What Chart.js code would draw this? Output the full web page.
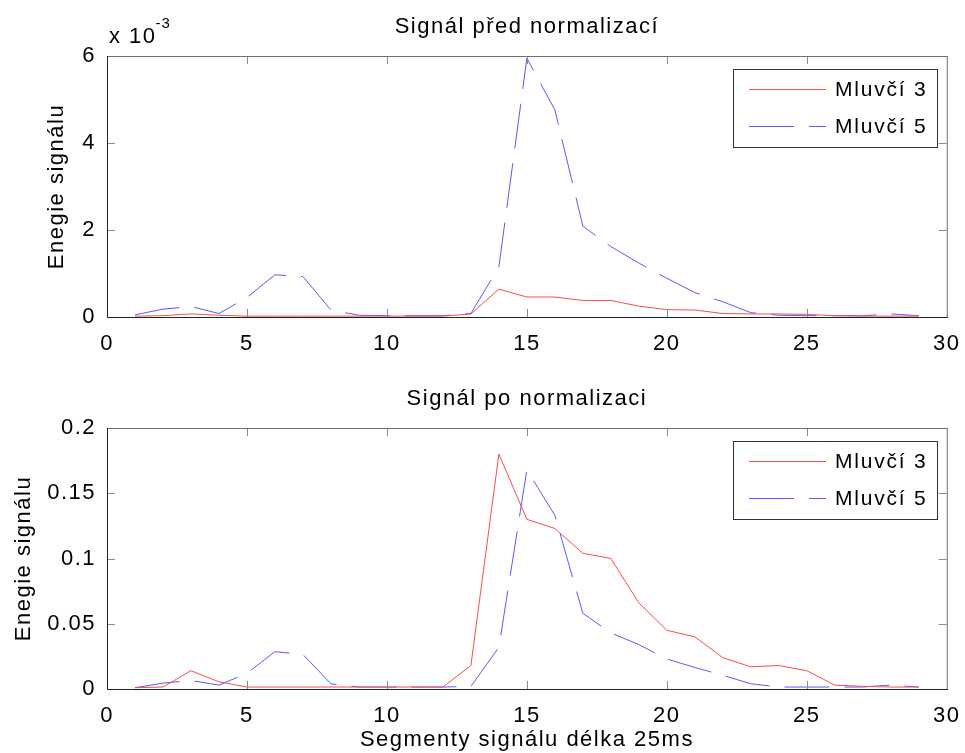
<!DOCTYPE html>
<html>
<head>
<meta charset="utf-8">
<script src="https://cdn.jsdelivr.net/npm/chart.js@4.4.1/dist/chart.umd.min.js"></script>
<style>
  html, body { margin: 0; padding: 0; background: #fff; }
  #wrap { position: relative; width: 965px; height: 753px; overflow: hidden; background: #fff; }
  canvas { position: absolute; left: 0; }
</style>
</head>
<body>
<div id="wrap">
  <canvas id="rawChart" width="965" height="380" style="top:0px"></canvas>
  <canvas id="normChart" width="965" height="381" style="top:372px"></canvas>
</div>
<script>
// Segment index (25 ms frames)
const segments = [1, 2, 3, 4, 5, 6, 7, 8, 9, 10, 11, 12, 13, 14, 15, 16, 17, 18, 19, 20, 21, 22, 23, 24, 25, 26, 27, 28, 29];

// Signal energy before normalization
const rawSpeaker3 = [0.02e-3, 0.03e-3, 0.07e-3, 0.04e-3, 0.02e-3, 0.02e-3, 0.02e-3, 0.02e-3, 0.02e-3, 0.02e-3,
                     0.02e-3, 0.02e-3, 0.07e-3, 0.64e-3, 0.46e-3, 0.46e-3, 0.38e-3, 0.38e-3, 0.25e-3, 0.17e-3,
                     0.16e-3, 0.08e-3, 0.07e-3, 0.07e-3, 0.06e-3, 0.03e-3, 0.02e-3, 0.02e-3, 0.02e-3];
const rawSpeaker5 = [0.05e-3, 0.18e-3, 0.24e-3, 0.08e-3, 0.45e-3, 0.97e-3, 0.93e-3, 0.16e-3, 0.04e-3, 0.03e-3,
                     0.03e-3, 0.03e-3, 0.08e-3, 1.15e-3, 5.95e-3, 4.76e-3, 2.09e-3, 1.62e-3, 1.24e-3, 0.89e-3,
                     0.56e-3, 0.35e-3, 0.10e-3, 0.04e-3, 0.03e-3, 0.03e-3, 0.03e-3, 0.07e-3, 0.03e-3];

// Signal energy after normalization
const normSpeaker3 = [0.001, 0.0015, 0.014, 0.0055, 0.0015, 0.0015, 0.0015, 0.0015, 0.0015, 0.0015,
                      0.0015, 0.0015, 0.018, 0.180, 0.130, 0.123, 0.104, 0.100, 0.066, 0.045,
                      0.040, 0.024, 0.017, 0.018, 0.014, 0.003, 0.002, 0.0015, 0.0015];
const normSpeaker5 = [0.001, 0.0045, 0.0065, 0.003, 0.012, 0.0286, 0.0265, 0.004, 0.0015, 0.0015,
                      0.0015, 0.0015, 0.002, 0.032, 0.168, 0.133, 0.058, 0.043, 0.034, 0.023,
                      0.0165, 0.0105, 0.004, 0.0015, 0.0015, 0.0015, 0.0015, 0.003, 0.0015];

// Tick values / labels
const xTicks = [0, 5, 10, 15, 20, 25, 30];
const rawYTicks = [0, 0.002, 0.004, 0.006];
const rawYLabels = ['0', '2', '4', '6'];
const normYTicks = [0, 0.05, 0.1, 0.15, 0.2];
const normYLabels = ['0', '0.05', '0.1', '0.15', '0.2'];

const seriesNames = ['Mluvčí 3', 'Mluvčí 5'];

const FONT = "'Liberation Sans', Arial, Helvetica, sans-serif";
const RED = '#ff4a4a';
const BLUE = '#5a5aff';
const seriesColors = [RED, BLUE];
const seriesDashes = [[], [45, 15]];

Chart.defaults.font.family = FONT;
Chart.defaults.font.size = 22;
Chart.defaults.color = '#000';

const toPoints = (xs, ys) => xs.map((x, i) => ({ x, y: ys[i] }));

// MATLAB-like axes box, inner ticks, titles and legend
const axesDecor = {
  id: 'axesDecor',
  beforeDraw(chart) {
    chart.ctx.letterSpacing = '1.5px';
  },
  afterDraw(chart, args, o) {
    const { ctx, chartArea: a, scales: { x, y } } = chart;
    ctx.save();
    ctx.letterSpacing = '0px';

    // inner tick marks
    ctx.strokeStyle = '#8a8a8a';
    ctx.lineWidth = 1;
    ctx.beginPath();
    x.ticks.forEach(t => {
      const px = Math.round(x.getPixelForValue(t.value)) + 0.5;
      if (px <= a.left + 1 || px >= a.right - 1) return;
      ctx.moveTo(px, a.bottom); ctx.lineTo(px, a.bottom - 8);
      ctx.moveTo(px, a.top); ctx.lineTo(px, a.top + 8);
    });
    y.ticks.forEach(t => {
      const py = Math.round(y.getPixelForValue(t.value)) + 0.5;
      if (py <= a.top + 1 || py >= a.bottom - 1) return;
      ctx.moveTo(a.left, py); ctx.lineTo(a.left + 8, py);
      ctx.moveTo(a.right, py); ctx.lineTo(a.right - 8, py);
    });
    ctx.stroke();

    // axes box
    ctx.strokeStyle = '#707070';
    ctx.strokeRect(a.left + 0.5, a.top + 0.5, a.right - a.left, a.bottom - a.top);
    ctx.strokeStyle = '#222';
    ctx.beginPath();
    ctx.moveTo(a.left + 0.5, a.top);
    ctx.lineTo(a.left + 0.5, a.bottom + 0.5);
    ctx.lineTo(a.right + 1, a.bottom + 0.5);
    ctx.stroke();

    // texts
    ctx.fillStyle = '#000';
    ctx.letterSpacing = '1.5px';
    ctx.font = '22px ' + FONT;
    ctx.textAlign = 'center';
    ctx.textBaseline = 'middle';
    ctx.fillText(o.title, (a.left + a.right) / 2, o.titleY);
    if (o.xLabel) ctx.fillText(o.xLabel, (a.left + a.right) / 2, o.xLabelY);

    ctx.save();
    ctx.translate(o.yLabelX, (a.top + a.bottom) / 2);
    ctx.rotate(-Math.PI / 2);
    ctx.fillText(o.yLabel, 0, 0);
    ctx.restore();

    if (o.exponent) {
      ctx.textAlign = 'left';
      ctx.textBaseline = 'alphabetic';
      ctx.font = '22px ' + FONT;
      ctx.fillText('x 10', 109, 43);
      const w = ctx.measureText('x 10').width;
      ctx.font = '15px ' + FONT;
      ctx.letterSpacing = '1px';
      ctx.fillText(o.exponent, 109 + w - 1, 28);
    }

    // legend
    const lg = o.legend;
    ctx.letterSpacing = '0px';
    ctx.fillStyle = '#fff';
    ctx.fillRect(lg.x, lg.y, lg.w, lg.h);
    ctx.strokeStyle = '#333';
    ctx.lineWidth = 1;
    ctx.strokeRect(lg.x + 0.5, lg.y + 0.5, lg.w, lg.h);
    seriesNames.forEach((name, i) => {
      const ly = lg.y + 20.5 + i * 37;
      ctx.save();
      ctx.strokeStyle = seriesColors[i];
      ctx.lineWidth = 1;
      ctx.setLineDash(seriesDashes[i]);
      ctx.beginPath();
      ctx.moveTo(lg.x + 16, ly);
      ctx.lineTo(lg.x + 93, ly);
      ctx.stroke();
      ctx.restore();
      ctx.fillStyle = '#000';
      ctx.font = '21px ' + FONT;
      ctx.letterSpacing = '1.8px';
      ctx.textAlign = 'left';
      ctx.textBaseline = 'middle';
      ctx.fillText(name, lg.x + 102, ly + 1);
      ctx.letterSpacing = '0px';
    });

    ctx.restore();
  }
};

function makeChart(id, s3, s5, yMax, yTicks, yLabels, decor, canvasH) {
  return new Chart(document.getElementById(id), {
    type: 'line',
    data: {
      datasets: [
        { label: seriesNames[0], data: toPoints(segments, s3), borderColor: seriesColors[0], borderWidth: 1,
          pointRadius: 0, tension: 0, fill: false },
        { label: seriesNames[1], data: toPoints(segments, s5), borderColor: seriesColors[1], borderWidth: 1,
          borderDash: seriesDashes[1], pointRadius: 0, tension: 0, fill: false }
      ]
    },
    options: {
      responsive: false,
      animation: false,
      events: [],
      layout: { padding: { left: 0, right: 18, top: 56, bottom: canvasH - 317 - 40 } },
      plugins: {
        legend: { display: false },
        tooltip: { enabled: false },
        axesDecor: decor
      },
      scales: {
        x: {
          type: 'linear',
          min: 0, max: 30,
          grid: { display: false },
          border: { display: false },
          afterBuildTicks: s => { s.ticks = xTicks.map(v => ({ value: v })); },
          afterFit: s => { s.height = 40; },
          ticks: { color: '#000', padding: 6, maxRotation: 0, autoSkip: false,
                   font: { size: 22 }, callback: v => String(v) }
        },
        y: {
          type: 'linear',
          min: 0, max: yMax,
          grid: { display: false },
          border: { display: false },
          afterBuildTicks: s => { s.ticks = yTicks.map(v => ({ value: v })); },
          afterFit: s => { s.width = 107; },
          ticks: { color: '#000', padding: 3, autoSkip: false, font: { size: 22 },
                   callback: (v, i) => yLabels[i] }
        }
      }
    },
    plugins: [axesDecor]
  });
}

makeChart('rawChart', rawSpeaker3, rawSpeaker5, 0.006, rawYTicks, rawYLabels, {
  title: 'Signál před normalizací', titleY: 27,
  yLabel: 'Enegie signálu', yLabelX: 57,
  exponent: '-3',
  legend: { x: 733, y: 69, w: 204, h: 78 }
}, 380);

makeChart('normChart', normSpeaker3, normSpeaker5, 0.2, normYTicks, normYLabels, {
  title: 'Signál po normalizaci', titleY: 27,
  yLabel: 'Enegie signálu', yLabelX: 24,
  xLabel: 'Segmenty signálu délka 25ms', xLabelY: 368,
  legend: { x: 733, y: 69, w: 204, h: 78 }
}, 381);
</script>
</body>
</html>
